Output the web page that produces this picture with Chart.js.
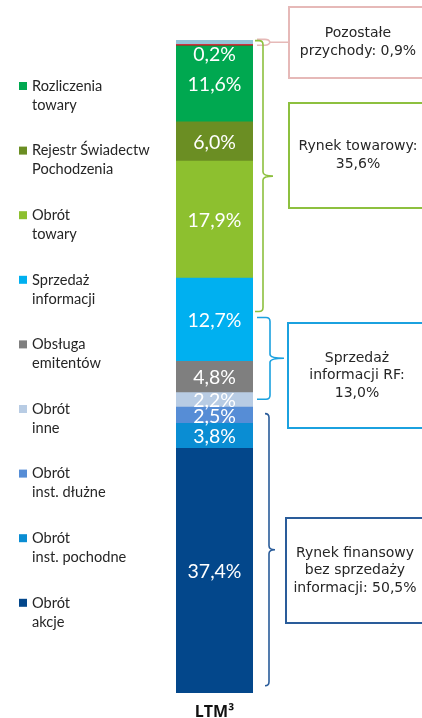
<!DOCTYPE html>
<html>
<head>
<meta charset="utf-8">
<script src="https://cdn.jsdelivr.net/npm/chart.js@4/dist/chart.umd.min.js"></script>
<style>
  html, body { margin: 0; padding: 0; background: #fff; }
  #wrap { width: 422px; height: 718px; }
</style>
</head>
<body>
<div id="wrap"><canvas id="chart" width="422" height="718"></canvas></div>
<script>
// data, bottom of the stack first
var categories = ['LTM\u00b3'];
var seriesNames = [
  ['Obrót', 'akcje'],
  ['Obrót', 'inst. pochodne'],
  ['Obrót', 'inst. dłużne'],
  ['Obrót', 'inne'],
  ['Obsługa', 'emitentów'],
  ['Sprzedaż', 'informacji'],
  ['Obrót', 'towary'],
  ['Rejestr Świadectw', 'Pochodzenia'],
  ['Rozliczenia', 'towary'],
  ['Pozostałe', 'przychody (1)'],
  ['Pozostałe', 'przychody (2)']
];
var seriesValues = [37.4, 3.8, 2.5, 2.2, 4.8, 12.7, 17.9, 6.0, 11.6, 0.2, 0.7];
var inLegend = [true, true, true, true, true, true, true, true, true, false, false];
var showValue = [true, true, true, true, true, true, true, true, true, true, false];
var colors = ['#03478B', '#0A8DD3', '#568DD6', '#B8CCE4', '#7F7F7F', '#00B0F0',
              '#8DC02F', '#6B8E23', '#00A850', '#E3000F', '#93C4D8'];

// group boxes on the right: text and value range of the bracket
var groupTexts = [
  ['Pozostałe', 'przychody: 0,9%'],
  ['Rynek towarowy:', '35,6%'],
  ['Sprzedaż', 'informacji RF:', '13,0%'],
  ['Rynek finansowy', 'bez sprzedaży', 'informacji: 50,5%']
];
var groupRanges = [[99.0, 99.9], [58.3, 99.7], [44.9, 57.4], [1.1, 42.7]];
var groupColors = ['#E6B9B8', '#8DC03F', '#1BA1DF', '#2A5C9A'];

var total = seriesValues.reduce(function(a, b) { return a + b; }, 0);

function fmt(v) {
  return v.toFixed(1).replace('.', ',') + '%';
}

var datasets = seriesValues.map(function(v, i) {
  return {
    label: seriesNames[i].join(' '),
    data: [v],
    backgroundColor: colors[i],
    borderWidth: 0,
    barPercentage: 1,
    categoryPercentage: 1
  };
});

var valueLabels = {
  id: 'valueLabels',
  afterDatasetsDraw: function(chart) {
    var ctx = chart.ctx;
    ctx.save();
    ctx.fillStyle = '#fff';
    ctx.font = '19.5px Lato';
    ctx.textAlign = 'center';
    chart.data.datasets.forEach(function(ds, i) {
      if (!showValue[i]) return;
      var bar = chart.getDatasetMeta(i).data[0];
      var h = bar.base - bar.y;
      if (h < 6) {
        ctx.textBaseline = 'top';
        ctx.fillText(fmt(ds.data[0]), bar.x, bar.base - 1);
      } else {
        ctx.textBaseline = 'middle';
        ctx.fillText(fmt(ds.data[0]), bar.x, (bar.y + bar.base) / 2 + 1);
      }
    });
    ctx.restore();
  }
};

var sideLegend = {
  id: 'sideLegend',
  afterDraw: function(chart) {
    var ctx = chart.ctx;
    ctx.save();
    ctx.font = '14.6px Lato';
    ctx.textBaseline = 'middle';
    ctx.textAlign = 'left';
    var y = 86;
    for (var i = seriesNames.length - 1; i >= 0; i--) {
      if (!inLegend[i]) continue;
      ctx.fillStyle = colors[i];
      ctx.fillRect(19, y - 4, 8, 8);
      ctx.fillStyle = '#262626';
      ctx.fillText(seriesNames[i][0], 32, y);
      ctx.fillText(seriesNames[i][1], 32, y + 19);
      y += 64.6;
    }
    ctx.restore();
  }
};

function bracket(ctx, yTop, yBot, xIn, xV, xTip) {
  var mid = (yTop + yBot) / 2;
  var r = 4;
  ctx.beginPath();
  ctx.moveTo(xIn, yTop);
  ctx.lineTo(xV - r, yTop);
  ctx.quadraticCurveTo(xV, yTop, xV, yTop + r);
  ctx.lineTo(xV, mid - r);
  ctx.quadraticCurveTo(xV, mid, xTip, mid);
  ctx.quadraticCurveTo(xV, mid, xV, mid + r);
  ctx.lineTo(xV, yBot - r);
  ctx.quadraticCurveTo(xV, yBot, xV - r, yBot);
  ctx.lineTo(xIn, yBot);
  ctx.stroke();
}

function box(ctx, x, y, w, h, lines, color) {
  ctx.strokeStyle = color;
  ctx.lineWidth = 2;
  ctx.strokeRect(x, y, w, h);
  ctx.fillStyle = '#262626';
  ctx.font = '14px "DejaVu Sans"';
  ctx.textAlign = 'center';
  ctx.textBaseline = 'middle';
  var lh = 17.5;
  var cx = x + 69;
  var y0 = y + h / 2 - (lines.length - 1) * lh / 2;
  lines.forEach(function(t, k) {
    ctx.fillText(t, cx, y0 + k * lh);
  });
}

var groups = {
  id: 'groups',
  afterDraw: function(chart) {
    var ctx = chart.ctx;
    var ys = chart.scales.y;
    ctx.save();
    ctx.lineWidth = 1.6;

    // small pink connector for the top segments
    var pt = ys.getPixelForValue(groupRanges[0][1]);
    var pb = ys.getPixelForValue(groupRanges[0][0]);
    var pm = (pt + pb) / 2;
    ctx.strokeStyle = groupColors[0];
    ctx.beginPath();
    ctx.moveTo(257, pt);
    ctx.lineTo(265, pt);
    ctx.quadraticCurveTo(269, pt, 270, pm);
    ctx.quadraticCurveTo(269, pb, 265, pb);
    ctx.lineTo(257, pb);
    ctx.moveTo(270, pm);
    ctx.lineTo(289, pm);
    ctx.stroke();
    box(ctx, 289, 7, 150, 71, groupTexts[0], groupColors[0]);

    ctx.lineWidth = 1.6;
    ctx.strokeStyle = groupColors[1];
    bracket(ctx, ys.getPixelForValue(groupRanges[1][1]), ys.getPixelForValue(groupRanges[1][0]), 255, 263, 273);
    box(ctx, 289, 103, 150, 105, groupTexts[1], groupColors[1]);

    ctx.lineWidth = 1.6;
    ctx.strokeStyle = groupColors[2];
    bracket(ctx, ys.getPixelForValue(groupRanges[2][1]), ys.getPixelForValue(groupRanges[2][0]), 257, 270, 284);
    box(ctx, 288, 323, 150, 105, groupTexts[2], groupColors[2]);

    ctx.lineWidth = 1.6;
    ctx.strokeStyle = groupColors[3];
    bracket(ctx, ys.getPixelForValue(groupRanges[3][1]), ys.getPixelForValue(groupRanges[3][0]), 265, 269, 275);
    box(ctx, 286, 518, 150, 105, groupTexts[3], groupColors[3]);

    ctx.restore();
  }
};

var chart = new Chart('chart', {
  type: 'bar',
  data: {
    labels: categories,
    datasets: datasets
  },
  options: {
    responsive: false,
    animation: false,
    devicePixelRatio: 1,
    layout: {
      padding: { left: 176, right: 169, top: 40, bottom: 0 }
    },
    plugins: {
      legend: { display: false },
      tooltip: { enabled: false }
    },
    scales: {
      x: {
        stacked: true,
        grid: { display: false },
        border: { display: false },
        afterFit: function(scale) { scale.height = 25; },
        ticks: {
          color: '#111',
          padding: 3,
          maxRotation: 0,
          font: { family: 'Open Sans', size: 16, weight: 'bold', lineHeight: 1 }
        }
      },
      y: {
        stacked: true,
        display: false,
        min: 0,
        max: total
      }
    }
  },
  plugins: [valueLabels, sideLegend, groups]
});
</script>
</body>
</html>
